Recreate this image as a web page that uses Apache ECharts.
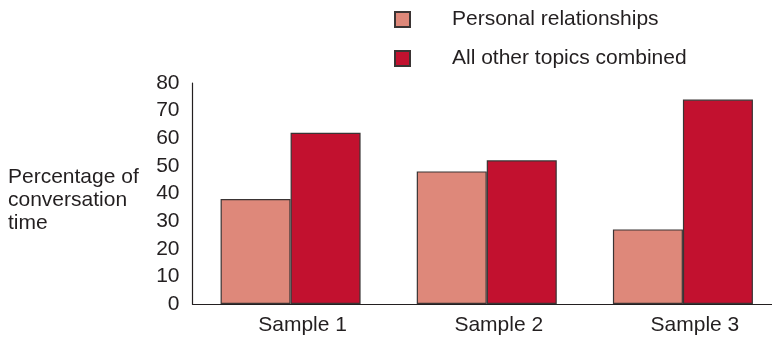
<!DOCTYPE html>
<html>
<head>
<meta charset="utf-8">
<script src="https://cdn.jsdelivr.net/npm/echarts@6/dist/echarts.min.js"></script>
<style>
  html, body { margin: 0; padding: 0; background: #ffffff; overflow: hidden; }
  /* the canvas runs a few pixels past the window so the last band is cut off */
  #chart { width: 781px; height: 339px; }
</style>
</head>
<body>
<div id="chart"></div>
<script>
// Share of conversation time by topic, three samples
const categories = ['Sample 1', 'Sample 2', 'Sample 3'];
const personalRelationships = [38, 48, 27];
const allOtherTopics = [62, 52, 74];
const yTicks = [0, 10, 20, 30, 40, 50, 60, 70, 80];

const FONT = 'Liberation Sans, Arial, Helvetica, sans-serif';
const TEXT = '#231f20';

const chart = echarts.init(document.getElementById('chart'));
chart.setOption({
  animation: false,
  backgroundColor: '#ffffff',
  title: {
    text: 'Percentage of\nconversation\ntime',
    left: 8,
    top: 166,
    padding: 0,
    textStyle: {
      fontFamily: FONT,
      fontSize: 21,
      fontWeight: 'normal',
      color: TEXT,
      lineHeight: 23
    }
  },
  legend: {
    orient: 'vertical',
    left: 394,
    top: 9,
    padding: 0,
    itemWidth: 15,
    itemHeight: 15,
    itemGap: 18,
    icon: 'rect',
    textStyle: {
      fontFamily: FONT,
      fontSize: 21,
      lineHeight: 21,
      color: TEXT,
      padding: [0, 0, 0, 37]
    },
    data: ['Personal relationships', 'All other topics combined']
  },
  grid: {
    left: 192.5,
    right: 0,
    top: 83,
    height: 221,
    containLabel: false
  },
  xAxis: {
    type: 'category',
    data: categories,
    axisLine: { lineStyle: { color: '#231f20', width: 1.2 } },
    axisTick: { show: false },
    axisLabel: {
      fontFamily: FONT,
      fontSize: 21,
      color: TEXT,
      margin: 11,
      padding: [0, 0, 0, 24]
    }
  },
  yAxis: {
    type: 'value',
    min: yTicks[0],
    max: yTicks[yTicks.length - 1],
    interval: 10,
    axisLine: { show: true, lineStyle: { color: '#231f20', width: 1.2 } },
    axisTick: { show: false },
    splitLine: { show: false },
    axisLabel: {
      fontFamily: FONT,
      fontSize: 21,
      color: TEXT,
      margin: 13
    }
  },
  series: [
    {
      name: 'Personal relationships',
      type: 'bar',
      data: personalRelationships,
      barWidth: 70,
      barGap: '0%',
      itemStyle: { color: '#de887a', borderColor: '#3a3434', borderWidth: 1.2 }
    },
    {
      name: 'All other topics combined',
      type: 'bar',
      data: allOtherTopics,
      barWidth: 70,
      barGap: '0%',
      itemStyle: { color: '#c2112f', borderColor: '#3a3434', borderWidth: 1.2 }
    }
  ]
});
</script>
</body>
</html>
